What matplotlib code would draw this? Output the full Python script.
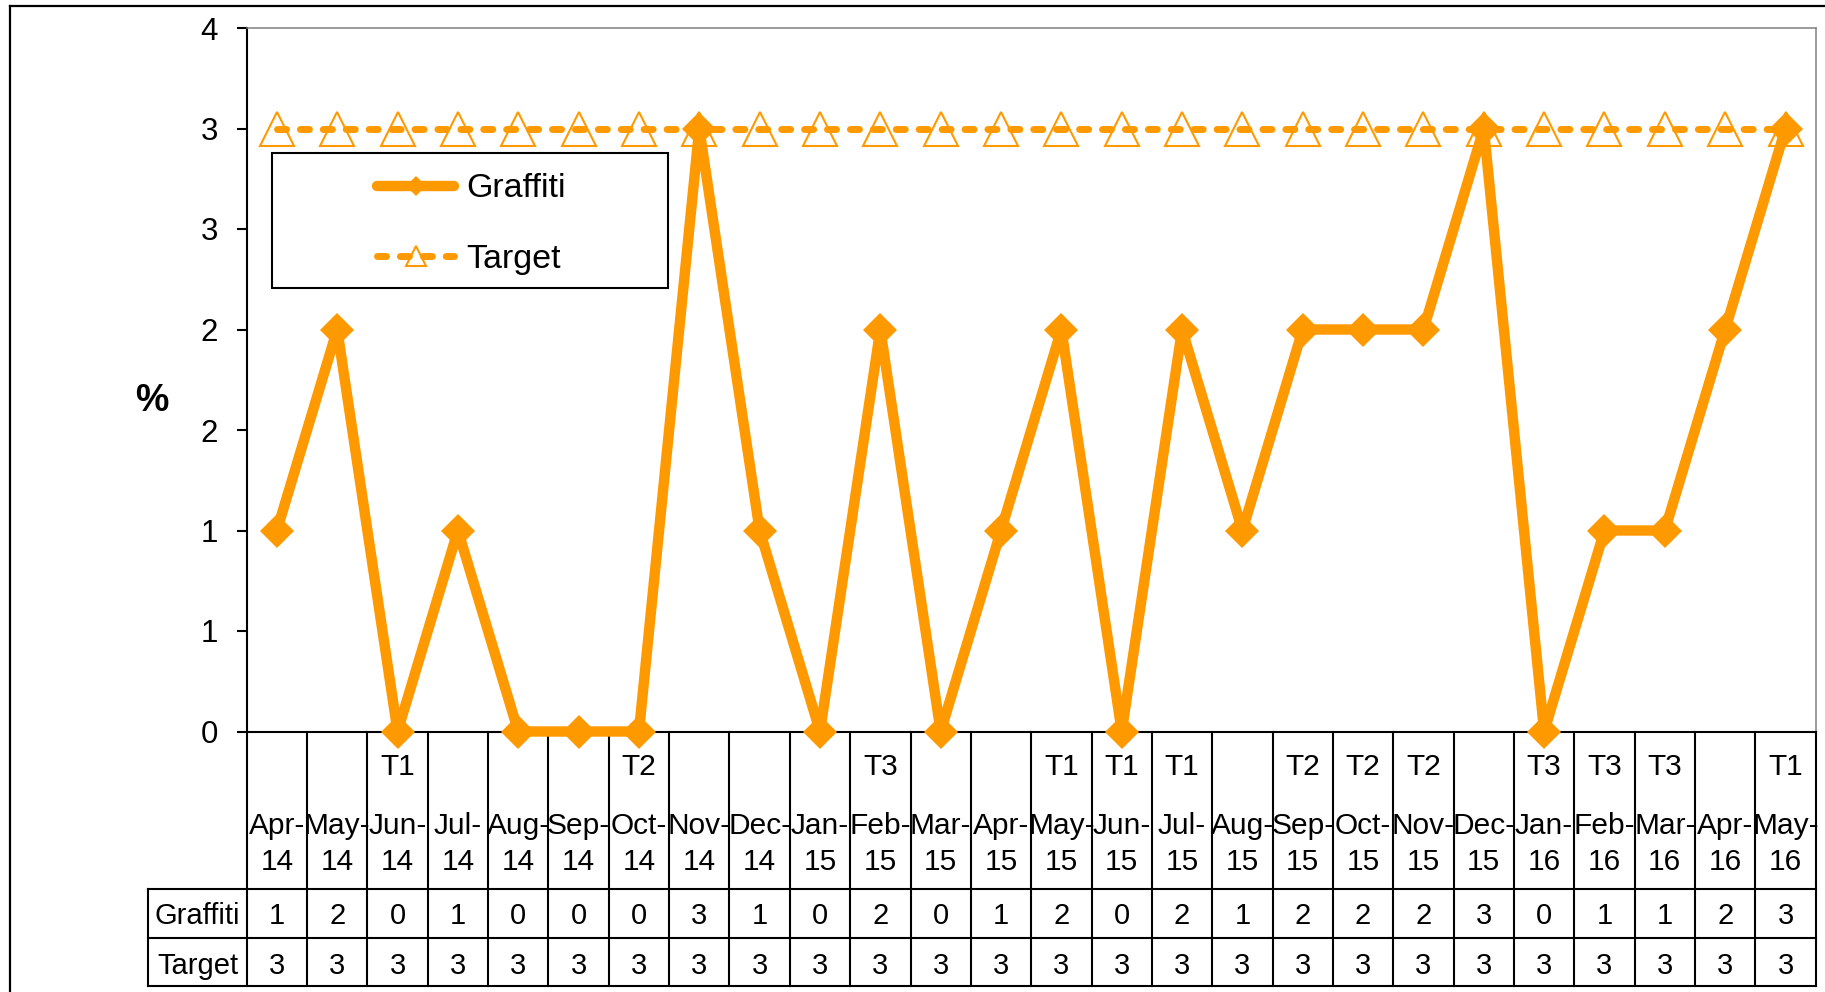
import numpy as np
import matplotlib
matplotlib.use("Agg")
import matplotlib.pyplot as plt
import matplotlib.transforms as mtransforms
from matplotlib.lines import Line2D
from matplotlib.patches import Rectangle
from matplotlib.ticker import FixedLocator, FuncFormatter

plt.rcParams['font.family'] = ['Liberation Sans', 'DejaVu Sans']

# ---- data -------------------------------------------------------------
months = ["Apr-14", "May-14", "Jun-14", "Jul-14", "Aug-14", "Sep-14", "Oct-14",
          "Nov-14", "Dec-14", "Jan-15", "Feb-15", "Mar-15", "Apr-15", "May-15",
          "Jun-15", "Jul-15", "Aug-15", "Sep-15", "Oct-15", "Nov-15", "Dec-15",
          "Jan-16", "Feb-16", "Mar-16", "Apr-16", "May-16"]
terms = ["", "", "T1", "", "", "", "T2", "", "", "", "T3", "", "", "T1",
         "T1", "T1", "", "T2", "T2", "T2", "", "T3", "T3", "T3", "", "T1"]
graffiti = [1, 2, 0, 1, 0, 0, 0, 3, 1, 0, 2, 0, 1, 2, 0, 2, 1, 2, 2, 2, 3,
            0, 1, 1, 2, 3]
target = [3, 3, 3, 3, 3, 3, 3, 3, 3, 3, 3, 3, 3, 3, 3, 3, 3, 3, 3, 3, 3,
          3, 3, 3, 3, 3]
y_ticks = [0, 0.5, 1.0, 1.5, 2.0, 2.5, 3.0, 3.5]
row_names = ["Graffiti", "Target"]

ORANGE = "#FF9900"
GREY = "#808080"

# ---- figure / axes ------------------------------------------------------
W, H = 1825, 992
fig = plt.figure(figsize=(W / 100, H / 100), dpi=100)
fig.patch.set_facecolor("white")

ax_l, ax_r, ax_t, ax_b = 246.7, 1815.7, 28.0, 731.5
ax = fig.add_axes([ax_l / W, 1 - ax_b / H, (ax_r - ax_l) / W, (ax_b - ax_t) / H])

x = np.arange(len(months))
ax.set_xlim(-0.5, len(months) - 0.5)
ax.set_ylim(0, 3.5)


def yfrac(py):
    return (ax_b - py) / (ax_b - ax_t)


def xfrac(px):
    return (px - ax_l) / (ax_r - ax_l)


# series
tgt_line, = ax.plot(x, target, color=ORANGE, lw=5, linestyle=(0, (1.3, 2.0)),
                    dash_capstyle='round', marker='^', ms=25, mfc='none',
                    mec=ORANGE, mew=1.5, zorder=3, clip_on=False, label="Target")
gra_line, = ax.plot(x, graffiti, color=ORANGE, lw=7.5, solid_capstyle='round',
                    marker='D', ms=17.8, mfc=ORANGE, mec=ORANGE, mew=0,
                    zorder=4, clip_on=False, label="Graffiti")

# axes styling
for side in ("left", "bottom"):
    ax.spines[side].set_color("black")
    ax.spines[side].set_linewidth(1.5)
for side in ("top", "right"):
    ax.spines[side].set_color(GREY)
    ax.spines[side].set_linewidth(1.1)

ax.yaxis.set_major_locator(FixedLocator(y_ticks))
ax.yaxis.set_major_formatter(FuncFormatter(lambda v, p: f"{int(np.floor(v + 0.5))}"))
ax.tick_params(axis='y', direction='out', length=7.2, width=1.5, pad=13.5,
               labelsize=22.5, colors='black')
ax.set_xticks([])

fig.text(152 / W, 1 - 397 / H, "%", fontsize=27, fontweight='bold',
         ha='center', va='center_baseline')

# legend with a boxed frame
box = Rectangle((xfrac(271.7), yfrac(287.7)), xfrac(668) - xfrac(271.7),
                yfrac(152.7) - yfrac(287.7), transform=ax.transAxes,
                facecolor='white', edgecolor='black', lw=1.5, zorder=5,
                clip_on=False)
ax.add_patch(box)
leg = ax.legend(handles=[gra_line, tgt_line], loc='center left',
                bbox_to_anchor=(xfrac(377), yfrac(224)), frameon=False,
                borderpad=0, borderaxespad=0, handlelength=2.27,
                handletextpad=0.36, labelspacing=1.15, markerscale=0.58,
                fontsize=24.5)
leg.set_zorder(6)

# ---- category labels and data table below the plot ------------------------
blend = mtransforms.blended_transform_factory(ax.transData, ax.transAxes)
y_term = yfrac(764)
y_mon1 = yfrac(823)
y_mon2 = yfrac(859.5)
y_cat_bot = yfrac(889)
y_row1_bot = yfrac(938.3)
y_row2_bot = yfrac(985.5)
y_row_txt = [yfrac(913.5), yfrac(962.5)]
lbl_left = xfrac(148.3)

for i, (m, t) in enumerate(zip(months, terms)):
    mon, yr = m.split("-")
    if t:
        ax.text(i, y_term, t, transform=blend, ha='center',
                va='center_baseline', fontsize=21.5)
    ax.text(i, y_mon1, mon + "-", transform=blend, ha='center',
            va='center_baseline', fontsize=21.5)
    ax.text(i, y_mon2, yr, transform=blend, ha='center',
            va='center_baseline', fontsize=21.5)
    ax.text(i, y_row_txt[0], str(graffiti[i]), transform=blend, ha='center',
            va='center_baseline', fontsize=21)
    ax.text(i, y_row_txt[1], str(target[i]), transform=blend, ha='center',
            va='center_baseline', fontsize=21)

# table grid
for b in np.arange(len(months) + 1) - 0.5:
    ax.add_line(Line2D([b, b], [0, y_row2_bot], transform=blend, color='black',
                       lw=1.5, clip_on=False))
for yy in (y_cat_bot, y_row1_bot, y_row2_bot):
    ax.add_line(Line2D([lbl_left, 1], [yy, yy], transform=ax.transAxes,
                       color='black', lw=1.5, clip_on=False))
ax.add_line(Line2D([lbl_left, lbl_left], [y_cat_bot, y_row2_bot],
                   transform=ax.transAxes, color='black', lw=1.5, clip_on=False))
for name, yy in zip(row_names, y_row_txt):
    ax.text(lbl_left / 2, yy, name, transform=ax.transAxes, ha='center',
            va='center_baseline', fontsize=21)

# outer chart border
fig.add_artist(Line2D([10 / W, 1], [1 - 6 / H, 1 - 6 / H],
                      transform=fig.transFigure, color='black', lw=1.6))
fig.add_artist(Line2D([10 / W, 10 / W], [0, 1 - 6 / H],
                      transform=fig.transFigure, color='black', lw=1.6))

fig.savefig("out.png", dpi=100, facecolor='white')
